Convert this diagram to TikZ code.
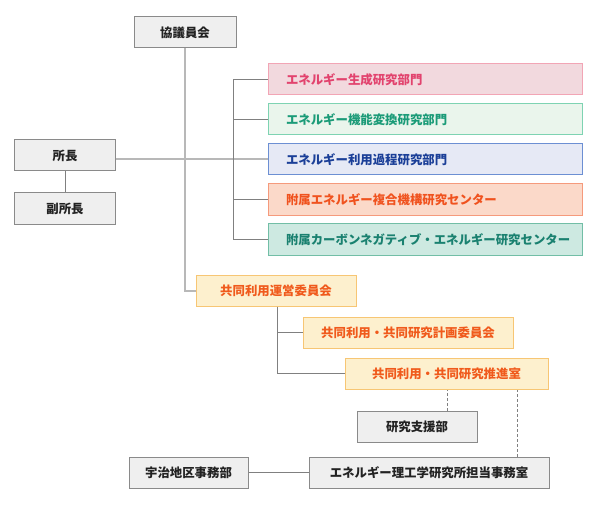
\documentclass[tikz,border=0pt]{standalone}
\usepackage{fontspec}
\setmainfont{Noto Sans CJK JP}
\begin{document}
\begin{tikzpicture}[x=1bp,y=-1bp,
  base/.style={draw, line width=1bp, minimum height=31bp, inner sep=0pt, font=\fontsize{12.4bp}{14bp}\selectfont\bfseries},
  greybox/.style={base, fill=boxgrey, draw=bordgrey, text=txtgrey},
  orangebox/.style={base, fill=orfill, draw=ordraw, text=ortext},
  deptbox/.style={base, minimum width=314bp, text width=278bp, inner xsep=18bp, align=left},
  mainline/.style={draw=linelight, line width=2bp},
  subline/.style={draw=linedark, line width=1bp},
  dashline/.style={draw=linedark, line width=0.8bp, dash pattern=on 3bp off 2bp}]
\definecolor{boxgrey}{HTML}{EFEFEF}
\definecolor{bordgrey}{HTML}{8A8A8A}
\definecolor{txtgrey}{HTML}{222222}
\definecolor{orfill}{HTML}{FDF0CE}
\definecolor{ordraw}{HTML}{F7C674}
\definecolor{ortext}{HTML}{F05A1C}
\definecolor{linelight}{HTML}{B8B8B8}
\definecolor{linedark}{HTML}{808080}
\definecolor{aF}{HTML}{F2D9DE}\definecolor{aD}{HTML}{F2A5B5}\definecolor{aT}{HTML}{E2436E}
\definecolor{bF}{HTML}{EAF5EC}\definecolor{bD}{HTML}{7ED3B2}\definecolor{bT}{HTML}{1B9B78}
\definecolor{cF}{HTML}{E6E9F5}\definecolor{cD}{HTML}{6C8FD3}\definecolor{cT}{HTML}{1B3F98}
\definecolor{dF}{HTML}{FBD9C9}\definecolor{dD}{HTML}{F59A7C}\definecolor{dT}{HTML}{F0521E}
\definecolor{eF}{HTML}{CDE9E1}\definecolor{eD}{HTML}{72BEA6}\definecolor{eT}{HTML}{1A8170}
\useasboundingbox (0,0) rectangle (595,510);
\fill[white] (0,0) rectangle (595,510);

\node[greybox, minimum width=102bp] (kyogi) at (185,32.5) {協議員会};
\node[greybox, minimum width=100bp] (shocho) at (65,155.5) {所長};
\node[greybox, minimum width=100bp] (fuku) at (65,208.5) {副所長};

\node[deptbox, fill=aF, draw=aD, text=aT] (b1) at (425,79.5) {エネルギー生成研究部門};
\node[deptbox, fill=bF, draw=bD, text=bT] (b2) at (425,119.5) {エネルギー機能変換研究部門};
\node[deptbox, fill=cF, draw=cD, text=cT] (b3) at (425,159.5) {エネルギー利用過程研究部門};
\node[deptbox, fill=dF, draw=dD, text=dT] (b4) at (425,199.5) {附属エネルギー複合機構研究センター};
\node[deptbox, fill=eF, draw=eD, text=eT] (b5) at (425,239.5) {附属カーボンネガティブ・エネルギー研究センター};

\node[orangebox, minimum width=160bp] (unei) at (276,290.5) {共同利用運営委員会};
\node[orangebox, minimum width=210bp] (keikaku) at (408,332.5) {共同利用・共同研究計画委員会};
\node[orangebox, minimum width=203bp] (suishin) at (446.5,373.5) {共同利用・共同研究推進室};

\node[greybox, minimum width=120bp] (shien) at (417,427) {研究支援部};
\node[greybox, minimum width=119bp] (uji) at (188.5,472.5) {宇治地区事務部};
\node[greybox, minimum width=240bp] (tanto) at (429,472.5) {エネルギー理工学研究所担当事務室};

% main lines
\draw[mainline] (kyogi.south) |- (unei.west);
\draw[mainline] (shocho.east |- b3.west) -- (b3.west);
% branch to departments
\coordinate (br) at (233,0);
\draw[subline] (b1.west) -| (br |- b1.west) |- (b5.west);
\draw[subline] (b2.west) -- (br |- b2.west);
\draw[subline] (b4.west) -- (br |- b4.west);
% vice director
\draw[subline] (shocho.south) -- (fuku.north);
% joint use
\coordinate (jb) at (277,0);
\draw[subline] (jb |- unei.south) |- (suishin.west);
\draw[subline] (jb |- keikaku.west) -- (keikaku.west);
% dashed
\draw[dashline] (shien.north -| 447,0) -- (suishin.south -| 447,0);
\draw[dashline] (tanto.north -| 517,0) -- (suishin.south -| 517,0);
% office
\draw[subline] (uji.east) -- (tanto.west);
\end{tikzpicture}
\end{document}
